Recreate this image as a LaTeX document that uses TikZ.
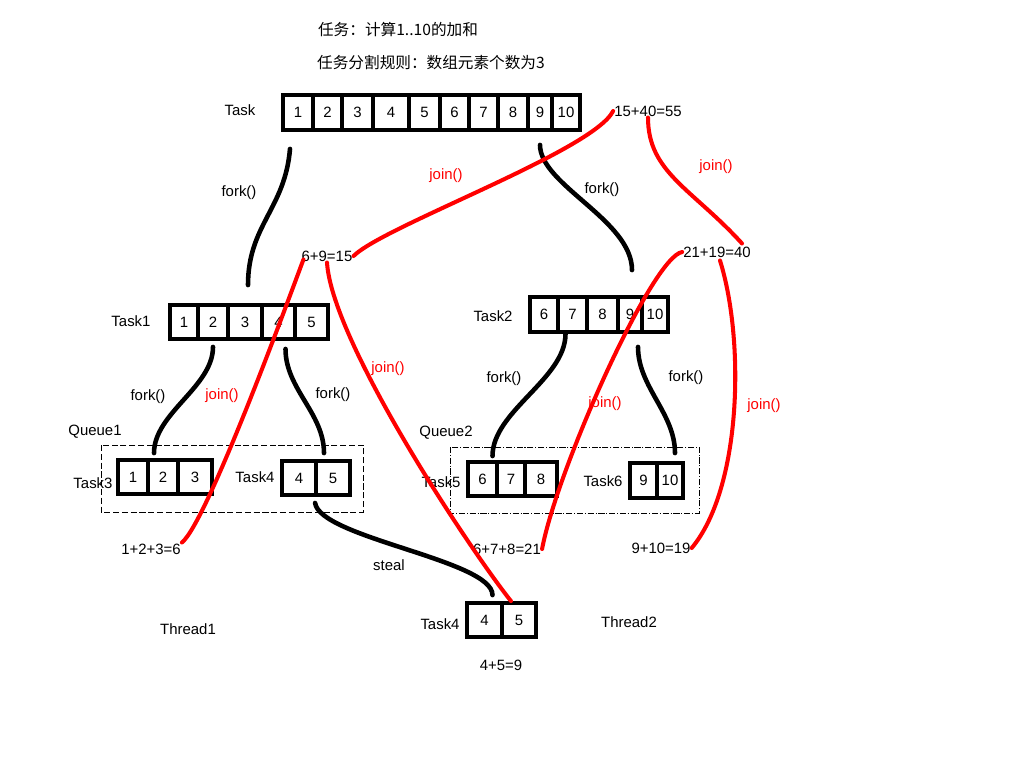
\documentclass[tikz,border=0pt]{standalone}
\usepackage{fontspec}
\setmainfont{Liberation Sans}
\newfontfamily\cjk{Noto Sans CJK SC}
\usetikzlibrary{calc}

\begin{document}
\begin{tikzpicture}[x=0.02cm, y=-0.02cm,
        font=\fontsize{8.5}{10}\selectfont,
        cell/.style={draw, line width=2.2pt, minimum height=0.68cm, inner sep=0pt},
        lbl/.style={inner sep=0.5pt},
        cjklbl/.style={inner sep=0.5pt, font=\cjk\fontsize{8.9}{10}\selectfont},
        joinlbl/.style={red, inner sep=0.5pt},
        forkline/.style={line width=2.6pt, line cap=round},
        joinline/.style={red, line width=2.3pt, line cap=round},
        queuebox/.style={line width=0.5pt, dash pattern=on 3.5pt off 1.5pt},
        queueboxb/.style={line width=0.5pt, dash pattern=on 3.5pt off 1pt on 0.6pt off 1pt}]

        \useasboundingbox (0,0) rectangle (1024,768);

        \node[cjklbl] (title) at (398,30) {任务：计算1..10的加和};
        \node[cjklbl] (rule) at (431,63) {任务分割规则：数组元素个数为3};

        \node[lbl] (task) at (240,110) {Task};
        \node[cell, minimum width=0.60cm, minimum height=0.7cm] (t1) at (298,112.5) {1};
        \node[cell, minimum width=0.58cm, minimum height=0.7cm] (t2) at (327.5,112.5) {2};
        \node[cell, minimum width=0.62cm, minimum height=0.7cm] (t3) at (357.5,112.5) {3};
        \node[cell, minimum width=0.72cm, minimum height=0.7cm] (t4) at (391,112.5) {4};
        \node[cell, minimum width=0.62cm, minimum height=0.7cm] (t5) at (424.5,112.5) {5};
        \node[cell, minimum width=0.58cm, minimum height=0.7cm] (t6) at (454.5,112.5) {6};
        \node[cell, minimum width=0.58cm, minimum height=0.7cm] (t7) at (483.5,112.5) {7};
        \node[cell, minimum width=0.60cm, minimum height=0.7cm] (t8) at (513,112.5) {8};
        \node[cell, minimum width=0.48cm, minimum height=0.7cm] (t9) at (540,112.5) {9};
        \node[cell, minimum width=0.56cm, minimum height=0.7cm] (t10) at (566,112.5) {10};

        \node[lbl] (task1) at (131,321) {Task1};
        \node[cell, minimum width=0.56cm] (a1) at (184,322) {1};
        \node[cell, minimum width=0.60cm] (a2) at (213,322) {2};
        \node[cell, minimum width=0.68cm] (a3) at (245,322) {3};
        \node[cell, minimum width=0.66cm] (a4) at (278.5,322) {4};
        \node[cell, minimum width=0.66cm] (a5) at (311.5,322) {5};

        \node[lbl] (task2) at (493,316) {Task2};
        \node[cell, minimum width=0.56cm, minimum height=0.7cm] (b1) at (544,314.5) {6};
        \node[cell, minimum width=0.58cm, minimum height=0.7cm] (b2) at (572.5,314.5) {7};
        \node[cell, minimum width=0.62cm, minimum height=0.7cm] (b3) at (602.5,314.5) {8};
        \node[cell, minimum width=0.48cm, minimum height=0.7cm] (b4) at (630,314.5) {9};
        \node[cell, minimum width=0.52cm, minimum height=0.7cm] (b5) at (655,314.5) {10};

        \node[lbl] (queue1) at (95,432) {Queue1};
        \draw[queuebox] (101,445) rectangle (363,512);
        \node[lbl] (task3) at (93,483) {Task3};
        \node[cell, minimum width=0.60cm] (c1) at (133,477) {1};
        \node[cell, minimum width=0.60cm] (c2) at (163,477) {2};
        \node[cell, minimum width=0.68cm] (c3) at (195,477) {3};
        \node[lbl] (task4) at (255,477) {Task4};
        \node[cell, minimum width=0.68cm] (d1) at (299,478) {4};
        \node[cell, minimum width=0.68cm] (d2) at (333,478) {5};

        \node[lbl] (queue2) at (446,433) {Queue2};
        \draw[queueboxb] (450,447) rectangle (699,513);
        \node[lbl] (task5) at (441,482) {Task5};
        \node[cell, minimum width=0.58cm] (e1) at (482.5,479) {6};
        \node[cell, minimum width=0.56cm] (e2) at (511,479) {7};
        \node[cell, minimum width=0.64cm] (e3) at (541,479) {8};
        \node[lbl] (task6) at (603,481) {Task6};
        \node[cell, minimum width=0.54cm, minimum height=0.7cm] (f1) at (643.5,480.5) {9};
        \node[cell, minimum width=0.52cm, minimum height=0.7cm] (f2) at (670,480.5) {10};

        \node[lbl] (task4s) at (440,624) {Task4};
        \node[cell, minimum width=0.70cm] (g1) at (484.5,620) {4};
        \node[cell, minimum width=0.68cm] (g2) at (519,620) {5};

        \node[lbl] (thread1) at (188,629) {Thread1};
        \node[lbl] (thread2) at (629,622) {Thread2};

        \node[lbl] (r55) at (648,111) {15+40=55};
        \node[lbl] (r40) at (717,252) {21+19=40};
        \node[lbl] (r15) at (327,256) {6+9=15};
        \node[lbl] (r6) at (151,549) {1+2+3=6};
        \node[lbl] (r21) at (507,549) {6+7+8=21};
        \node[lbl] (r19) at (661,548) {9+10=19};
        \node[lbl] (r9) at (501,665) {4+5=9};

        \node[lbl] (fk1) at (239,193) {fork()};
        \node[lbl] (fk2) at (602,190) {fork()};
        \node[lbl] (fk3) at (148,397) {fork()};
        \node[lbl] (fk4) at (333,395) {fork()};
        \node[lbl] (fk5) at (504,379) {fork()};
        \node[lbl] (fk6) at (686,378) {fork()};
        \node[lbl] (stl) at (389,565) {steal};

        \node[joinlbl] (jn1) at (446,176) {join()};
        \node[joinlbl] (jn2) at (716,167) {join()};
        \node[joinlbl] (jn3) at (388,369) {join()};
        \node[joinlbl] (jn4) at (222,396) {join()};
        \node[joinlbl] (jn5) at (605,404) {join()};
        \node[joinlbl] (jn6) at (764,406) {join()};

        \draw[forkline] ($(t1.south)+(-8,17)$) .. controls +(-5,60) and +(0,-60) .. ($(a3.north)+(3,-18)$);
        \draw[forkline] ($(t9.south)+(0,13)$) .. controls +(0,40) and +(0,-50) .. ($(b4.north)+(2,-25)$);
        \draw[forkline] ($(a2.south)+(0,6)$) .. controls +(0,40) and +(0,-40) .. ($(c2.north)+(-9,-5)$);
        \draw[forkline] ($(a4.south)+(7,8)$) .. controls +(0,40) and +(0,-40) .. ($(d2.north)+(-9,-6)$);
        \draw[forkline] ($(b2.south)+(-7,0)$) .. controls +(0,45) and +(0,-45) .. ($(e1.north)+(10,-4)$);
        \draw[forkline] ($(b4.south)+(8,13)$) .. controls +(0,40) and +(0,-40) .. ($(f2.north)+(5,-8)$);
        \draw[forkline] ($(d2.south west)+(1,6)$) .. controls +(5,35) and +(0,-35) .. ($(g1.north)+(8,-6)$);

        \draw[joinline] (r15.east) .. controls +(30,-30) and +(-20,40) .. (r55.west);
        \draw[joinline] (r55.south) .. controls +(0,55) and +(-50,-55) .. ($(r40.north)+(25,-2)$);
        \draw[joinline] (r6.north east) .. controls +(25,-20) and +(-15,40) .. ($(r15.south west)+(3,-3)$);
        \draw[joinline] (r15.south) .. controls +(5,80) and +(-40,-50) .. ($(g2.north)+(-8,0)$);
        \draw[joinline] (r21.east) .. controls +(15,-80) and +(-30,5) .. (r40.west);
        \draw[joinline] (r19.east) .. controls +(50,-60) and +(25,80) .. ($(r40.south)+(3,2)$);
\end{tikzpicture}
\end{document}
